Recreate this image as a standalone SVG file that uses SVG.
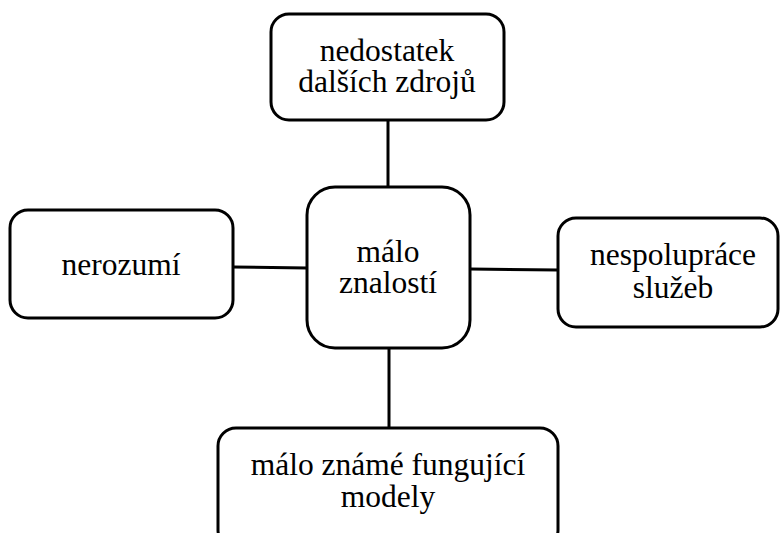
<svg xmlns="http://www.w3.org/2000/svg" width="780" height="533" viewBox="0 0 780 533">
<style>
.box{fill:#fff;stroke:#000;stroke-width:3}
.ln{stroke:#000;stroke-width:3;fill:none}
.t{font-family:'Liberation Serif','DejaVu Serif',serif;font-size:31.5px;fill:#000;text-anchor:middle}
</style>
<rect width="780" height="533" fill="#fff"/>
<g id="connectors">
<line class="ln" x1="388" y1="120" x2="388" y2="187"/>
<line class="ln" x1="233" y1="267" x2="307" y2="268"/>
<line class="ln" x1="470" y1="269" x2="558" y2="270"/>
<line class="ln" x1="389" y1="348" x2="389" y2="428"/>
</g>
<g id="top">
<rect class="box" x="271" y="14" width="233" height="106" rx="18"/>
<text class="t" x="387" y="61">nedostatek</text>
<text class="t" x="387" y="92">dalších zdrojů</text>
</g>
<g id="center">
<rect class="box" x="307" y="187" width="163" height="161" rx="28"/>
<text class="t" x="388" y="262">málo</text>
<text class="t" x="388" y="293">znalostí</text>
</g>
<g id="left">
<rect class="box" x="10" y="210" width="223" height="108" rx="18"/>
<text class="t" x="121" y="275">nerozumí</text>
</g>
<g id="right">
<rect class="box" x="558" y="218" width="220" height="109" rx="18"/>
<text class="t" x="673" y="265">nespolupráce</text>
<text class="t" x="673" y="298">služeb</text>
</g>
<g id="bottom">
<rect class="box" x="218" y="428" width="340" height="120" rx="18"/>
<text class="t" x="388" y="475">málo známé fungující</text>
<text class="t" x="388" y="507">modely</text>
</g>
</svg>
